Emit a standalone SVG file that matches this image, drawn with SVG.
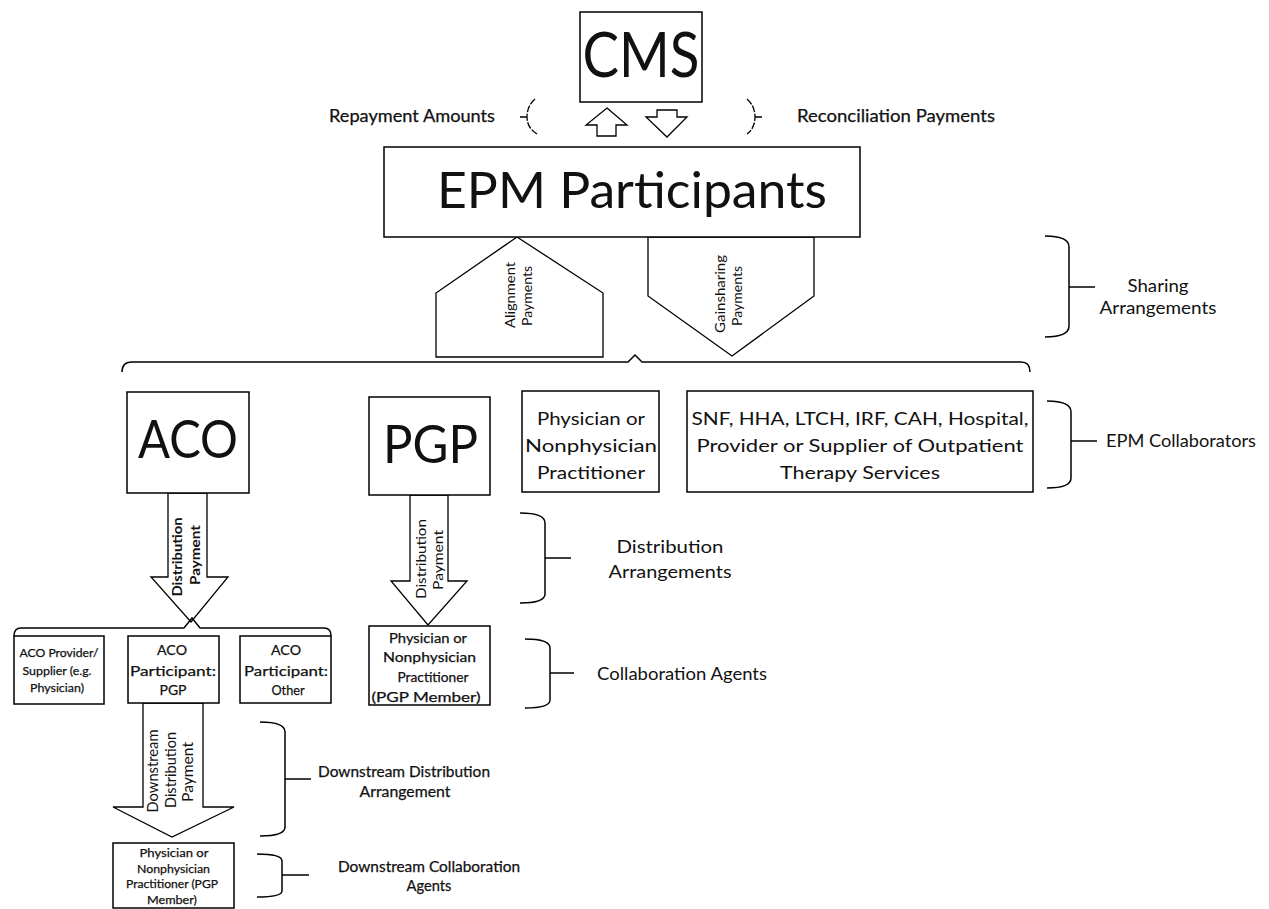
<svg xmlns="http://www.w3.org/2000/svg" width="1269" height="909" viewBox="0 0 1269 909">
<style>
.box{fill:#fff;stroke:#000;stroke-width:1.5}
.arr{fill:#fff;stroke:#000;stroke-width:1.3;stroke-linejoin:miter}
.ln{fill:none;stroke:#000;stroke-width:1.5}
.dash{fill:none;stroke:#000;stroke-width:1.3;stroke-dasharray:7 1.5}
.t{font-family:Lato,'Liberation Sans',sans-serif;fill:#111;text-anchor:middle}
.semi{stroke:#111;stroke-width:0.25}
.b{font-weight:bold}
</style>
<rect width="1269" height="909" fill="#fff"/>

<g id="connectors">
  <g id="cms-arrows">
    <polygon class="arr" points="607,108 627,125 616,125 616,136 597,136 597,125 586,125"/>
    <polygon class="arr" points="657,110 677,110 677,117 687,117 667,137 646,117 657,117"/>
    <path class="dash" d="M535,99 Q527,106 527,117 Q527,128 537,134 M527,117 L520,117"/>
    <path class="dash" d="M747,99 Q755,106 755,117 Q755,128 747,134 M755,117 L763,117"/>
  </g>
  <g id="alignment">
    <polygon class="arr" points="517,237 603,293 603,357 436,357 436,293"/>
    <text class="t" font-size="13" textLength="66" lengthAdjust="spacingAndGlyphs" transform="translate(515,295) rotate(-90)">Alignment</text>
    <text class="t" font-size="13" textLength="60" lengthAdjust="spacingAndGlyphs" transform="translate(532,296) rotate(-90)">Payments</text>
  </g>
  <g id="gainsharing">
    <polygon class="arr" points="648,237 814,237 814,296 732,356 648,296"/>
    <text class="t" font-size="13" textLength="78" lengthAdjust="spacingAndGlyphs" transform="translate(725,294) rotate(-90)">Gainsharing</text>
    <text class="t" font-size="13" textLength="60" lengthAdjust="spacingAndGlyphs" transform="translate(742,296) rotate(-90)">Payments</text>
  </g>
  <path id="top-brace" class="ln" d="M122,372 Q122,362 132,362 L628,362 L635,355 L642,362 L1021,362 Q1030,362 1030,372"/>
  <g id="aco-arrow">
    <polygon class="arr" points="168,493 168,577 151,577 191,622 228,577 207,577 207,493"/>
    <text class="t b" font-size="13" textLength="79" lengthAdjust="spacingAndGlyphs" transform="translate(182,557) rotate(-90)">Distribution</text>
    <text class="t b" font-size="13" textLength="60" lengthAdjust="spacingAndGlyphs" transform="translate(200,555) rotate(-90)">Payment</text>
  </g>
  <path id="aco-brace" class="ln" d="M14,636 Q14,628 21,628 L184,628 L192,618 L200,628 L324,628 Q331,628 331,636"/>
  <g id="pgp-arrow">
    <polygon class="arr" points="410,495 410,581 391,581 428,625 467,581 448,581 448,495"/>
    <text class="t" font-size="14" textLength="80" lengthAdjust="spacingAndGlyphs" transform="translate(426,559) rotate(-90)">Distribution</text>
    <text class="t" font-size="14" textLength="60" lengthAdjust="spacingAndGlyphs" transform="translate(443,560) rotate(-90)">Payment</text>
  </g>
  <g id="downstream-arrow">
    <polygon class="arr" points="143,703 143,807 113,807 172,837 234,807 203,807 203,703"/>
    <text class="t" font-size="15" textLength="83" lengthAdjust="spacingAndGlyphs" transform="translate(158,771) rotate(-90)">Downstream</text>
    <text class="t" font-size="15" textLength="76" lengthAdjust="spacingAndGlyphs" transform="translate(176,770) rotate(-90)">Distribution</text>
    <text class="t" font-size="15" textLength="60" lengthAdjust="spacingAndGlyphs" transform="translate(193,772) rotate(-90)">Payment</text>
  </g>
  <g id="braces">
    <path class="ln" d="M1045,236 Q1069,236 1069,247 L1069,326 Q1069,337 1045,337 M1069,287 L1095,287"/>
    <path class="ln" d="M1047,401 Q1071,401 1071,412 L1071,478 Q1071,488 1047,488 M1071,441 L1097,441"/>
    <path class="ln" d="M520,513 Q545,513 545,523 L545,594 Q545,603 520,603 M545,558 L571,558"/>
    <path class="ln" d="M525,639 Q550,639 550,648 L550,700 Q550,708 525,708 M550,673 L574,673"/>
    <path class="ln" d="M260,722 Q285,722 285,732 L285,827 Q285,836 260,836 M285,779 L311,779"/>
    <path class="ln" d="M257,854 Q282,854 282,861 L282,891 Q282,897 257,897 M282,875 L309,875"/>
  </g>
</g>

<g id="cms">
  <rect class="box" x="580" y="12" width="122" height="90"/>
  <text class="t" x="641" y="77" font-size="62" textLength="117" lengthAdjust="spacingAndGlyphs">CMS</text>
</g>
<g id="repayment-label"><text class="t semi" x="412" y="122" font-size="17.5" textLength="166" lengthAdjust="spacingAndGlyphs">Repayment Amounts</text></g>
<g id="reconciliation-label"><text class="t semi" x="896" y="122" font-size="17.5" textLength="198" lengthAdjust="spacingAndGlyphs">Reconciliation Payments</text></g>

<g id="epm">
  <rect class="box" x="384" y="147" width="476" height="90"/>
  <text class="t" x="632" y="208" font-size="50" textLength="390" lengthAdjust="spacingAndGlyphs">EPM Participants</text>
</g>
<g id="sharing-label">
  <text class="t" x="1158" y="292" font-size="18" textLength="61" lengthAdjust="spacingAndGlyphs">Sharing</text>
  <text class="t" x="1158" y="314" font-size="18" textLength="117" lengthAdjust="spacingAndGlyphs">Arrangements</text>
</g>

<g id="aco">
  <rect class="box" x="127" y="392" width="122" height="101"/>
  <text class="t" x="188" y="458" font-size="53" textLength="100" lengthAdjust="spacingAndGlyphs">ACO</text>
</g>
<g id="pgp">
  <rect class="box" x="369" y="397" width="121" height="98"/>
  <text class="t" x="430.5" y="463" font-size="53" textLength="95" lengthAdjust="spacingAndGlyphs">PGP</text>
</g>
<g id="physician">
  <rect class="box" x="522" y="391" width="137" height="101"/>
  <text class="t" x="591" y="425" font-size="18" textLength="108" lengthAdjust="spacingAndGlyphs">Physician or</text>
  <text class="t" x="591" y="452" font-size="18" textLength="132" lengthAdjust="spacingAndGlyphs">Nonphysician</text>
  <text class="t" x="591" y="479" font-size="18" textLength="108" lengthAdjust="spacingAndGlyphs">Practitioner</text>
</g>
<g id="collaborators">
  <rect class="box" x="687" y="391" width="346" height="101"/>
  <text class="t" x="860" y="425" font-size="18" textLength="337" lengthAdjust="spacingAndGlyphs">SNF, HHA, LTCH, IRF, CAH, Hospital,</text>
  <text class="t" x="860" y="452" font-size="18" textLength="327" lengthAdjust="spacingAndGlyphs">Provider or Supplier of Outpatient</text>
  <text class="t" x="860" y="479" font-size="18" textLength="160" lengthAdjust="spacingAndGlyphs">Therapy Services</text>
</g>
<g id="epm-collaborators-label"><text class="t" x="1181" y="447" font-size="18" textLength="150" lengthAdjust="spacingAndGlyphs">EPM Collaborators</text></g>

<g id="distribution-label">
  <text class="t" x="670" y="553" font-size="18" textLength="107" lengthAdjust="spacingAndGlyphs">Distribution</text>
  <text class="t" x="670" y="578" font-size="18" textLength="123" lengthAdjust="spacingAndGlyphs">Arrangements</text>
</g>
<g id="collaboration-label"><text class="t" x="682" y="680" font-size="18" textLength="170" lengthAdjust="spacingAndGlyphs">Collaboration Agents</text></g>

<g id="aco-provider">
  <rect class="box" x="14" y="636" width="90" height="68"/>
  <text class="t semi" x="59" y="657" font-size="11.5" textLength="79" lengthAdjust="spacingAndGlyphs">ACO Provider/</text>
  <text class="t semi" x="57" y="675" font-size="11.5" textLength="69" lengthAdjust="spacingAndGlyphs">Supplier (e.g.</text>
  <text class="t semi" x="57" y="692" font-size="11.5" textLength="54" lengthAdjust="spacingAndGlyphs">Physician)</text>
</g>
<g id="aco-participant-pgp">
  <rect class="box" x="128" y="636" width="91" height="67"/>
  <text class="t semi" x="172" y="655" font-size="14" textLength="30" lengthAdjust="spacingAndGlyphs">ACO</text>
  <text class="t semi" x="173" y="676" font-size="14" textLength="86" lengthAdjust="spacingAndGlyphs">Participant:</text>
  <text class="t semi" x="173" y="695" font-size="14" textLength="27" lengthAdjust="spacingAndGlyphs">PGP</text>
</g>
<g id="aco-participant-other">
  <rect class="box" x="240" y="636" width="91" height="67"/>
  <text class="t semi" x="286" y="655" font-size="14" textLength="30" lengthAdjust="spacingAndGlyphs">ACO</text>
  <text class="t semi" x="286" y="676" font-size="14" textLength="84" lengthAdjust="spacingAndGlyphs">Participant:</text>
  <text class="t semi" x="288" y="695" font-size="14" textLength="33" lengthAdjust="spacingAndGlyphs">Other</text>
</g>
<g id="pgp-member">
  <rect class="box" x="369" y="626" width="121" height="79"/>
  <text class="t semi" x="428" y="643" font-size="13" textLength="78" lengthAdjust="spacingAndGlyphs">Physician or</text>
  <text class="t semi" x="429.5" y="662" font-size="13" textLength="93" lengthAdjust="spacingAndGlyphs">Nonphysician</text>
  <text class="t semi" x="433" y="682" font-size="13" textLength="71" lengthAdjust="spacingAndGlyphs">Practitioner</text>
  <text class="t semi" x="426" y="702" font-size="13" textLength="109" lengthAdjust="spacingAndGlyphs">(PGP Member)</text>
</g>
<g id="downstream-distribution-label">
  <text class="t semi" x="404" y="777" font-size="14.5" textLength="172" lengthAdjust="spacingAndGlyphs">Downstream Distribution</text>
  <text class="t semi" x="405" y="797" font-size="14.5" textLength="91" lengthAdjust="spacingAndGlyphs">Arrangement</text>
</g>
<g id="downstream-member">
  <rect class="box" x="113" y="843" width="121" height="65"/>
  <text class="t semi" x="174" y="857" font-size="11.5" textLength="69" lengthAdjust="spacingAndGlyphs">Physician or</text>
  <text class="t semi" x="173.5" y="873" font-size="11.5" textLength="73" lengthAdjust="spacingAndGlyphs">Nonphysician</text>
  <text class="t semi" x="172" y="888" font-size="11.5" textLength="92" lengthAdjust="spacingAndGlyphs">Practitioner (PGP</text>
  <text class="t semi" x="172" y="904" font-size="11.5" textLength="50" lengthAdjust="spacingAndGlyphs">Member)</text>
</g>
<g id="downstream-collaboration-label">
  <text class="t semi" x="429" y="872" font-size="14.5" textLength="182" lengthAdjust="spacingAndGlyphs">Downstream Collaboration</text>
  <text class="t semi" x="429" y="891" font-size="14.5" textLength="45" lengthAdjust="spacingAndGlyphs">Agents</text>
</g>
</svg>
